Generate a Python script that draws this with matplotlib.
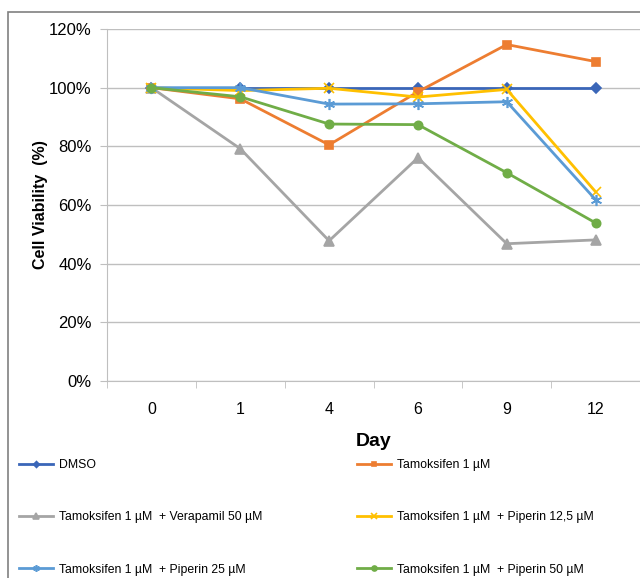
import numpy as np
import matplotlib
matplotlib.use('Agg')
import matplotlib.pyplot as plt
from matplotlib.patches import Rectangle
from matplotlib.ticker import FuncFormatter

plt.rcParams['font.family'] = ['Liberation Sans', 'DejaVu Sans']

days = ['0', '1', '4', '6', '9', '12']

dmso = [100, 100, 100, 100, 100, 100]
tam = [100, 96.2, 80.5, 98.6, 114.7, 108.9]
tam_vera = [100, 79.2, 47.8, 76.1, 46.8, 48.1]
tam_pip125 = [100, 99.0, 99.8, 96.8, 99.4, 64.5]
tam_pip25 = [100, 100, 94.4, 94.5, 95.2, 61.8]
tam_pip50 = [100, 96.9, 87.6, 87.4, 71.0, 53.9]

labels = ['DMSO', 'Tamoksifen 1 µM', 'Tamoksifen 1 µM  + Verapamil 50 µM',
          'Tamoksifen 1 µM  + Piperin 12,5 µM', 'Tamoksifen 1 µM  + Piperin 25 µM',
          'Tamoksifen 1 µM  + Piperin 50 µM']
colors = ['#3A66B8', '#ED7D31', '#A5A5A5', '#FFC000', '#5B9BD5', '#70AD47']
markers = ['D', 's', '^', 'x', (6, 2, 0), 'o']
msizes = [5, 6, 7, 7, 8, 6]
series = [dmso, tam, tam_vera, tam_pip125, tam_pip25, tam_pip50]

fig = plt.figure(figsize=(6.4, 5.78), dpi=100)
ax = fig.add_axes([107 / 640, 197 / 578, 533 / 640, 352 / 578])

x = np.arange(len(days))
handles = []
for s, lab, c, m, ms in zip(series, labels, colors, markers, msizes):
    h, = ax.plot(x, s, color=c, lw=2, marker=m, markersize=ms,
                 markeredgecolor=c, markeredgewidth=1.2, label=lab)
    handles.append(h)

ax.set_xlim(-0.5, 5.5)
ax.set_ylim(0, 120)
ax.set_yticks(np.arange(0, 121, 20))
ax.yaxis.set_major_formatter(FuncFormatter(lambda v, p: f'{v:.0f}%'))
ax.set_xticks(x)
ax.set_xticklabels(days)
ax.set_xticks(np.arange(-0.5, 6, 1), minor=True)
ax.tick_params(axis='x', which='major', length=0, labelsize=11.5, pad=15)
ax.tick_params(axis='x', which='minor', length=5, color='#BFBFBF')
ax.tick_params(axis='y', length=5, color='#BFBFBF', labelsize=12, pad=6)
ax.grid(axis='y', color='#BFBFBF', lw=1)
ax.set_axisbelow(True)
for side in ['top', 'right']:
    ax.spines[side].set_visible(False)
ax.spines['left'].set_color('#BFBFBF')
ax.spines['bottom'].set_color('#BFBFBF')

ax.set_xlabel('Day', fontsize=14, fontweight='bold', labelpad=12)
ax.set_ylabel('Cell Viability  (%)', fontsize=11.5, fontweight='bold', labelpad=1)

order = [0, 2, 4, 1, 3, 5]
leg = fig.legend([handles[i] for i in order], [labels[i] for i in order],
                 ncol=2, loc='upper left', bbox_to_anchor=(8 / 640, 1 - 448 / 578),
                 frameon=False, fontsize=8.8, handlelength=2.8, handletextpad=0.5,
                 columnspacing=7.7, labelspacing=3.3, markerscale=0.6)

fig.patches.append(Rectangle((8 / 640, -0.1), 2, 1.1 - 12 / 578, transform=fig.transFigure,
                             fill=False, edgecolor='#808080', lw=1.2))

fig.savefig('out.png', dpi=100)
